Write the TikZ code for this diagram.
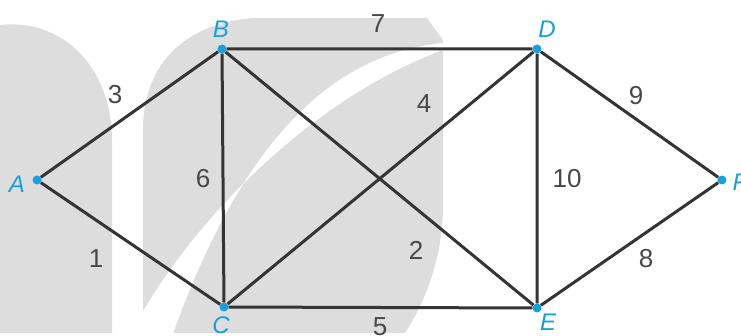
\documentclass[tikz,border=0pt]{standalone}
\usepackage{fontspec}
\setmainfont{Liberation Sans}
\usetikzlibrary{positioning}

\definecolor{GraphLine}{RGB}{52,52,52}
\definecolor{GraphVertex}{RGB}{22,160,220}
\definecolor{GraphWeight}{RGB}{72,72,72}
\definecolor{GraphMark}{RGB}{222,221,221}

\begin{document}
\begin{tikzpicture}[x=1pt,y=-1pt,
    vertex/.style={circle,fill=GraphVertex,inner sep=0pt,minimum size=9pt},
    vname/.style={text=GraphVertex,font=\fontsize{24}{26}\selectfont\itshape},
    weight/.style={text=GraphWeight,font=\fontsize{26}{28}\selectfont},
    link/.style={GraphLine,line width=3pt}]
  \useasboundingbox (0,0) rectangle (741,336);

  % faint leaf watermark behind the graph
  \fill[GraphMark] (0,25) .. controls (65,18) and (112,70) .. (112,140)
    -- (112,333) -- (0,333) -- cycle;
  \fill[GraphMark] (143,333) -- (143,130) .. controls (143,60) and (190,22) .. (255,18)
    -- (427,18) -- (443,40) -- (443,205) .. controls (443,265) and (420,310) .. (405,333) -- cycle;
  \fill[white] (138,320) .. controls (200,210) and (320,95) .. (443,50) -- (443,43)
    .. controls (320,55) and (235,160) .. (172,336) -- (138,336) -- cycle;

  % vertices
  \node[vertex] (A) at (37,180) {};
  \node[vertex] (B) at (222,49) {};
  \node[vertex] (C) at (224,307) {};
  \node[vertex] (D) at (537,49) {};
  \node[vertex] (E) at (537,308) {};
  \node[vertex] (F) at (722,180) {};

  \node[vname] (nameA) at (17,184) {A};
  \node[vname] (nameB) at (221,29) {B};
  \node[vname] (nameC) at (221,325) {C};
  \node[vname] (nameD) at (547,29) {D};
  \node[vname] (nameE) at (548,322) {E};
  \node[vname] (nameF) at (740,182) {F};

  % edges
  \draw[link] (A) -- (B) (A) -- (C) (B) -- (D) (B) -- (C) (B) -- (E);
  \draw[link] (C) -- (D) (C) -- (E) (D) -- (E) (D) -- (F) (E) -- (F);

  % weights
  \node[weight] (wAB) at (115,95) {3};
  \node[weight] (wAC) at (96,259) {1};
  \node[weight] (wBD) at (378,24) {7};
  \node[weight] (wBC) at (203,179) {6};
  \node[weight] (wCD) at (424,104) {4};
  \node[weight] (wBE) at (416,250) {2};
  \node[weight] (wDE) at (567,179) {10};
  \node[weight] (wDF) at (636,96) {9};
  \node[weight] (wEF) at (646,259) {8};
  \node[weight] (wCE) at (380,327) {5};
\end{tikzpicture}
\end{document}
